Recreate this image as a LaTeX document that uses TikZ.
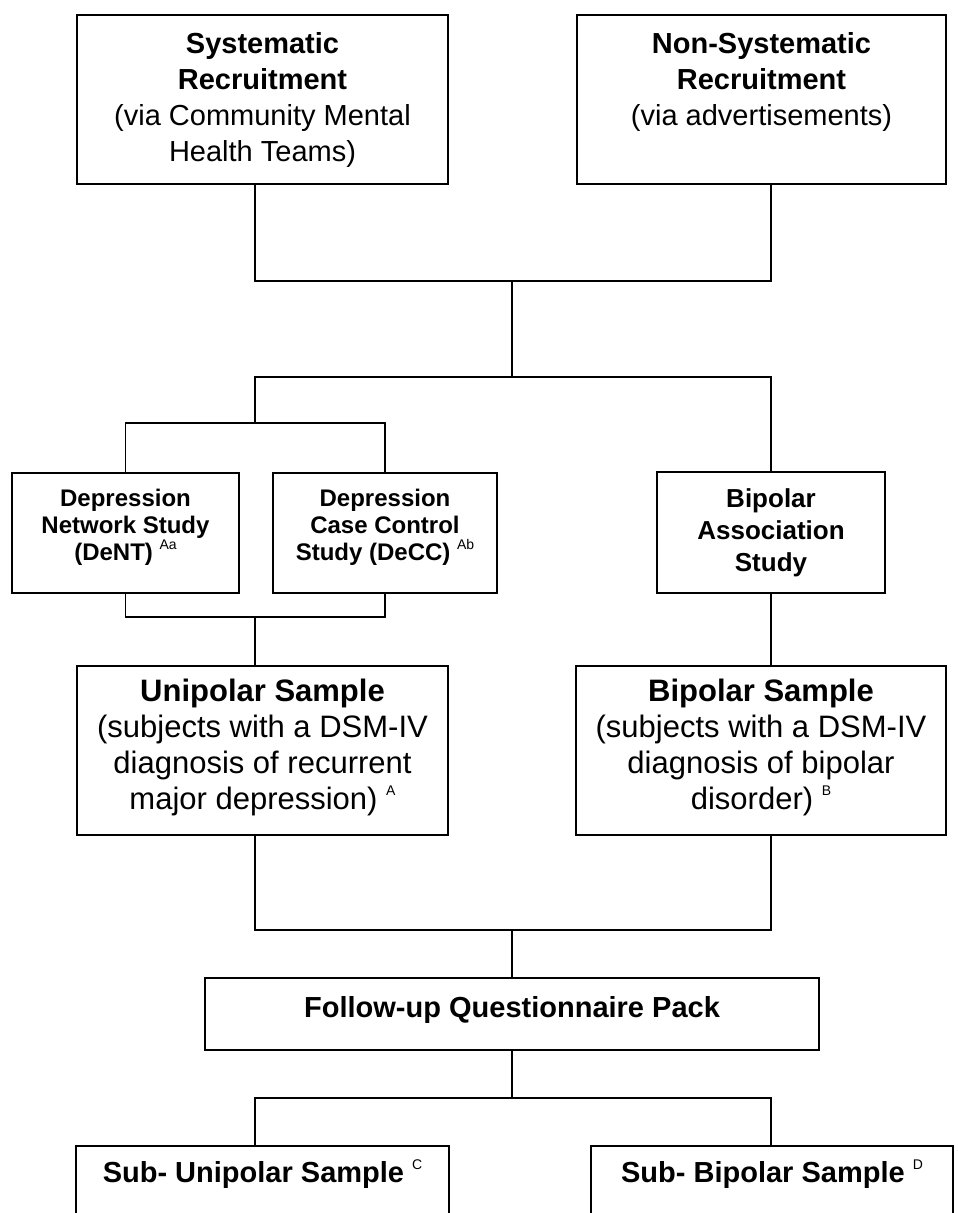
\documentclass[tikz,border=0pt]{standalone}
\usepackage{fontspec}
\setmainfont{Liberation Sans}

\newcommand{\spx}[1]{\raisebox{0.45em}{\fontsize{7}{7}\selectfont\mdseries #1}}

\begin{document}
\begin{tikzpicture}[x=0.5pt,y=-0.5pt,
	box/.style={draw,line width=1pt,inner sep=0pt,outer sep=0pt},
	txt/.style={anchor=north,align=center,inner sep=0pt,font={\fontsize{15.5}{18}\selectfont}},
	txttop/.style={txt,font={\fontsize{14.5}{18}\selectfont}},
	txtsmall/.style={txt,font={\fontsize{12}{13.5}\selectfont\bfseries}},
	txtmid/.style={txt,font={\fontsize{13}{16}\selectfont\bfseries}},
	txtsub/.style={txt,font={\fontsize{14.5}{17}\selectfont\bfseries}},
	link/.style={line width=0.75pt}]
	
	\useasboundingbox (0,0) rectangle (957,1213);
	
	% recruitment boxes
	\node[box,minimum width=185.5pt,minimum height=84.5pt] (sys) at (262.5,99.5) {};
	\node[box,minimum width=184.5pt,minimum height=84.5pt] (nonsys) at (761.5,99.5) {};
	
	% study boxes
	\node[box,minimum width=113.5pt,minimum height=60pt] (dent) at (125.5,533) {};
	\node[box,minimum width=112pt,minimum height=60pt] (decc) at (385,533) {};
	\node[box,minimum width=114pt,minimum height=60.5pt] (bas) at (771,532.5) {};
	
	% sample boxes
	\node[box,minimum width=185.5pt,minimum height=84.5pt] (uni) at (262.5,750.5) {};
	\node[box,minimum width=185pt,minimum height=84.5pt] (bip) at (761,750.5) {};
	
	% follow-up and sub-samples
	\node[box,minimum width=307pt,minimum height=36pt] (fup) at (512,1014) {};
	\node[box,minimum width=186.5pt,minimum height=60pt] (subuni) at (262.5,1206) {};
	\node[box,minimum width=181pt,minimum height=60pt] (subbip) at (772,1206) {};
	
	% box texts
	\path (sys.north) ++(0,17) node[txttop] (systxt) {\textbf{Systematic}\\\textbf{Recruitment}\\(via Community Mental\\Health Teams)};
	\path (nonsys.north) ++(0,17) node[txttop] (nonsystxt) {\textbf{Non-Systematic}\\\textbf{Recruitment}\\(via advertisements)};
	
	\path (dent.north) ++(0,16) node[txtsmall] (denttxt) {Depression\\Network Study\\(DeNT) \spx{Aa}};
	\path (decc.north) ++(0,16) node[txtsmall] (decctxt) {Depression\\Case Control\\Study (DeCC) \spx{Ab}};
	\path (bas.north) ++(0,16) node[txtmid] (bastxt) {Bipolar\\Association\\Study};
	
	\path (uni.north) ++(0,13) node[txt] (unitxt) {\textbf{Unipolar Sample}\\(subjects with a DSM-IV\\diagnosis of recurrent\\major depression) \spx{A}};
	\path (bip.north) ++(0,13) node[txt] (biptxt) {\textbf{Bipolar Sample}\\(subjects with a DSM-IV\\diagnosis of bipolar\\disorder) \spx{B}};
	
	\path (fup.north) ++(0,18) node[txtsub] (fuptxt) {Follow-up Questionnaire Pack};
	\path (subuni.north) ++(0,13) node[txtsub] (subunitxt) {Sub- Unipolar Sample \spx{C}};
	\path (subbip.north) ++(0,13) node[txtsub] (subbiptxt) {Sub- Bipolar Sample \spx{D}};
	
	% junctions
	\coordinate (colL) at (255,0);
	\coordinate (colR) at (771,0);
	\coordinate (j1) at (512,281);
	\coordinate (j2) at (512,377);
	\coordinate (j3) at (255,423);
	\coordinate (j4) at (255,617);
	\coordinate (j5) at (512,930);
	\coordinate (j6) at (512,1098);
	
	% connectors
	\draw[link] (sys.south -| colL) |- (j1) -| (nonsys.south -| colR);
	\draw[link] (j1) -- (j2);
	\draw[link] (j3) |- (j2) -| (bas.north);
	\draw[link] (dent.north) |- (j3) -| (decc.north);
	\draw[link] (dent.south) |- (j4) -| (decc.south);
	\draw[link] (j4) -- (uni.north -| j4);
	\draw[link] (bas.south) -- (bip.north -| bas.south);
	\draw[link] (uni.south -| colL) |- (j5) -| (bip.south -| colR);
	\draw[link] (j5) -- (fup.north);
	\draw[link] (fup.south) -- (j6);
	\draw[link] (subuni.north -| colL) |- (j6) -| (subbip.north -| colR);
	
\end{tikzpicture}
\end{document}
